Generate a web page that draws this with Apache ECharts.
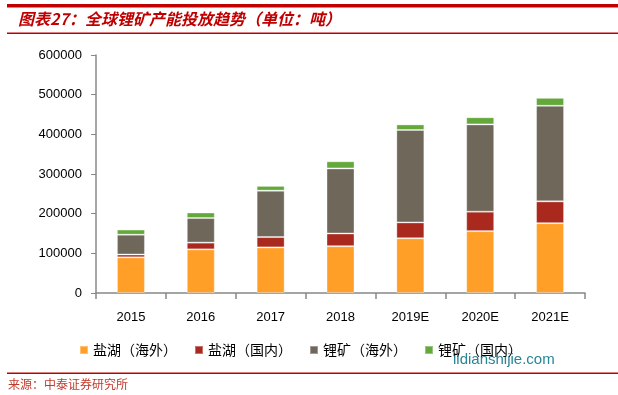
<!DOCTYPE html>
<html><head><meta charset="utf-8">
<script src="https://cdn.jsdelivr.net/npm/echarts@6/dist/echarts.min.js"></script>
<style>html,body{margin:0;padding:0;background:#fff}#c{width:618px;height:395px}</style>
</head><body><div id="c"></div>
<script>
var categories = ['2015','2016','2017','2018','2019E','2020E','2021E'];
var saltOverseas = [90000,110000,115000,118000,138000,156000,176000];
var saltDomestic = [7000,17000,26000,32000,40000,49000,55000];
var oreOverseas = [50000,62000,117000,164000,233000,220000,241000];
var oreDomestic = [13000,14000,12000,18000,14000,18000,20000];
var seriesNames = ['盐湖（海外）','盐湖（国内）','锂矿（海外）','锂矿（国内）'];
var colors = ['#FF9F27','#A9291E','#6F675A','#63A83A'];

var chart = echarts.init(document.getElementById('c'));
var dataSets = [saltOverseas, saltDomestic, oreOverseas, oreDomestic];
var cjk = '"Noto Sans CJK SC", sans-serif';
chart.setOption({
  animation: false,
  color: colors,
  grid: {left: 96, right: 33, top: 55, bottom: 102},
  legend: {
    left: 74, top: 338, itemWidth: 8, itemHeight: 8, itemGap: 17, icon: 'rect',
    textStyle: {fontFamily: cjk, fontSize: 14, color: '#000'},
    data: seriesNames
  },
  xAxis: {
    type: 'category', data: categories,
    axisLine: {lineStyle: {color: '#888', width: 1.5}},
    axisTick: {show: true, length: 6, lineStyle: {color: '#888', width: 1.5}},
    axisLabel: {fontFamily: 'Liberation Sans, Arial', fontSize: 13, color: '#000', margin: 18}
  },
  yAxis: {
    type: 'value', min: 0, max: 600000, interval: 100000,
    axisLine: {show: true, lineStyle: {color: '#888', width: 1.5}},
    axisTick: {show: true, length: 5, lineStyle: {color: '#888'}},
    splitLine: {show: false},
    axisLabel: {fontFamily: 'Liberation Sans, Arial', fontSize: 13, color: '#000', margin: 14,
      formatter: function (v) { return String(v); }}
  },
  series: dataSets.map(function (d, i) {
    return {
      name: seriesNames[i], type: 'bar', stack: 'total', data: d, barWidth: 28,
      itemStyle: {borderColor: 'rgba(255,255,255,0.35)', borderWidth: 1}
    };
  }),
  graphic: [
    {type: 'rect', shape: {x: 7, y: 4, width: 611, height: 3.5}, style: {fill: '#C00000'}},
    {type: 'text', left: 18, top: 11, style: {text: '图表27：全球锂矿产能投放趋势（单位：吨）', fill: '#C00000', font: 'italic bold 16px "Noto Sans CJK SC", sans-serif'}},
    {type: 'rect', shape: {x: 7, y: 32.5, width: 611, height: 1.5}, style: {fill: '#C00000'}},
    {type: 'text', left: 453, top: 352, style: {text: 'lidianshijie.com', fill: '#2A8595', font: '15px "Liberation Sans", sans-serif'}},
    {type: 'rect', shape: {x: 7, y: 372.5, width: 611, height: 1.5}, style: {fill: '#C00000'}},
    {type: 'text', left: 8, top: 378, style: {text: '来源：中泰证券研究所', fill: '#C0392B', font: '12px "Noto Sans CJK SC", sans-serif'}}
  ]
});
</script></body></html>
